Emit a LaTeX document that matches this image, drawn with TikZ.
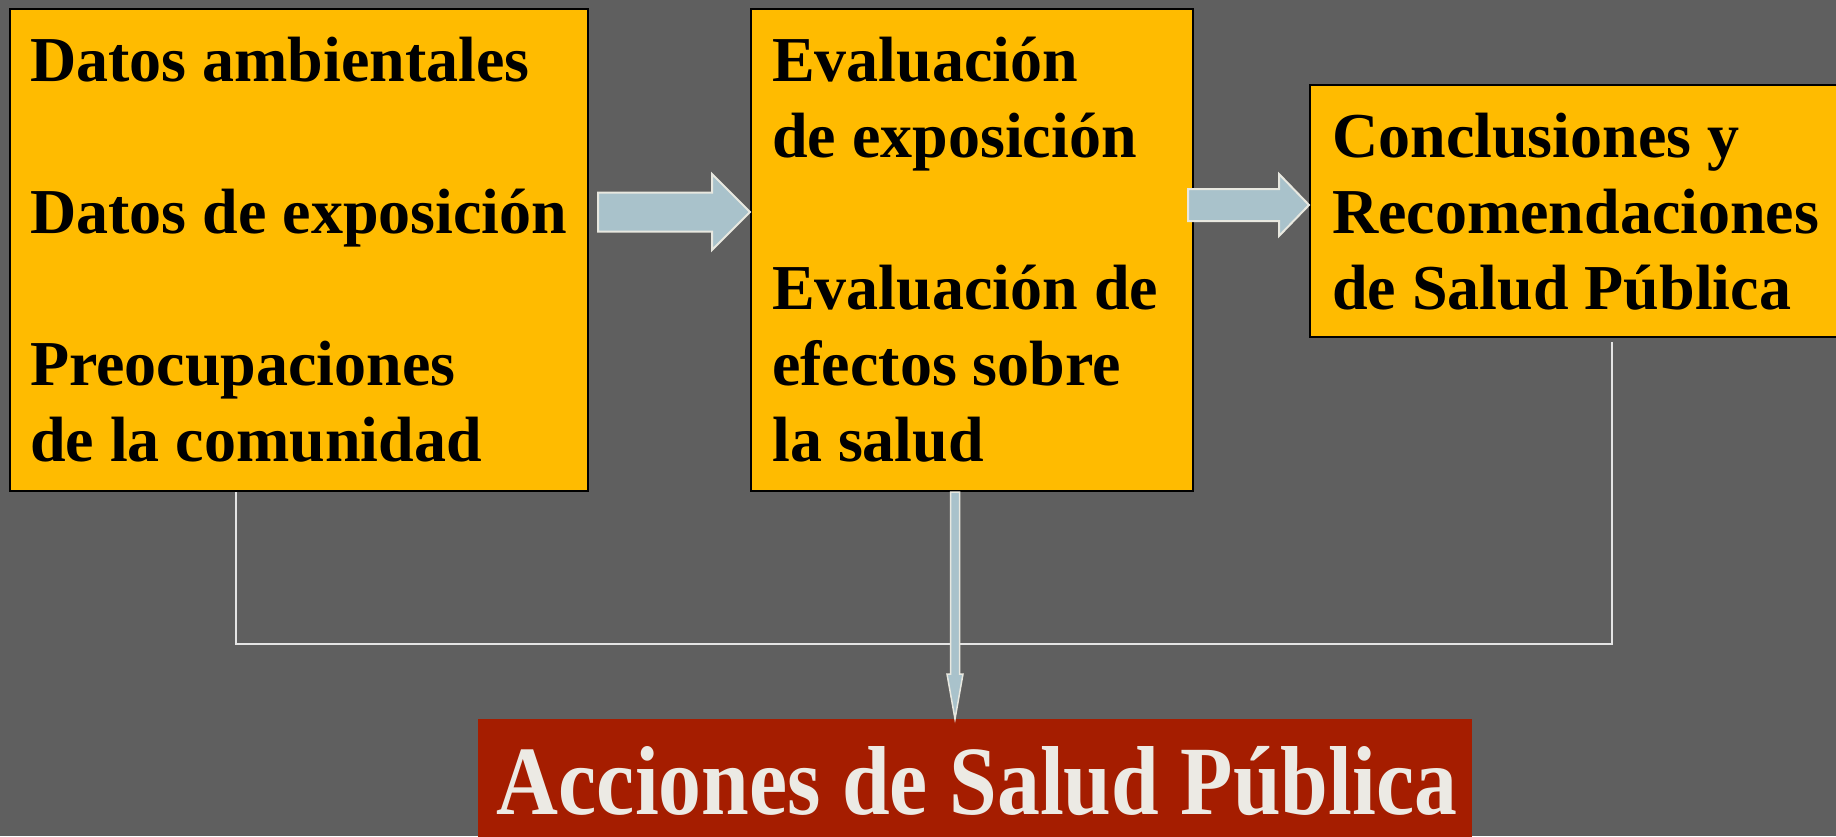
\documentclass[tikz,border=0pt]{standalone}
\usepackage{fontspec}
\setmainfont{Liberation Serif}
\newfontfamily\titlefont{Liberation Serif}[FakeStretch=0.875]
\usetikzlibrary{calc}
\definecolor{bgcol}{RGB}{95,95,95}
\definecolor{boxorange}{RGB}{255,187,0}
\definecolor{actred}{RGB}{165,29,0}
\definecolor{arrfill}{RGB}{169,194,203}
\definecolor{arredge}{RGB}{232,232,224}
\definecolor{linecol}{RGB}{228,228,228}
\definecolor{acttext}{RGB}{236,234,228}
\tikzset{
  stagebox/.style={draw=black, line width=1.5pt, fill=boxorange, rectangle, anchor=north west, inner sep=0pt},
  stagetext/.style={anchor=north west, inner sep=0pt, align=left, font=\bfseries\fontsize{64}{76}\selectfont, text=black},
  barrow/.style={fill=arrfill, draw=arredge, line width=2pt, line join=miter},
  link/.style={draw=linecol, line width=2pt},
}
\newcommand{\firstline}{\rule{0pt}{73pt}}
\begin{document}
\begin{tikzpicture}[x=1pt,y=-1pt]
\fill[bgcol] (0,0) rectangle (1836,836);
\useasboundingbox (0,0) rectangle (1836,836);

% boxes
\node[stagebox, minimum width=578pt, minimum height=482pt] (b1) at (9,8) {};
\node[stagebox, minimum width=442pt, minimum height=482pt] (b2) at (750,8) {};
\node[stagebox, minimum width=540pt, minimum height=252pt] (b3) at (1309,84) {};
\node[fill=actred, rectangle, anchor=north west, inner sep=0pt, minimum width=994pt, minimum height=130pt] (act) at (478,719) {};

% texts
\node[stagetext] (t1) at ($(b1.north west)+(21,0)$) {\firstline Datos ambientales\\[76pt]Datos de exposición\\[76pt]Preocupaciones\\de la comunidad};
\node[stagetext] (t2) at ($(b2.north west)+(22,0)$) {\firstline Evaluación\\de exposición\\[76pt]Evaluación de\\efectos sobre\\la salud};
\node[stagetext] (t3) at ($(b3.north west)+(23,0)$) {\firstline Conclusiones y\\Recomendaciones\\de Salud Pública};
\node[anchor=base, inner sep=0pt, font=\titlefont\bfseries\fontsize{98}{110}\selectfont, text=acttext] (tact) at (977,814) {Acciones de Salud Pública};

% connector line
\coordinate (l1) at (236,492);
\coordinate (l2) at (236,644);
\coordinate (l3) at (1612,644);
\coordinate (l4) at (1612,342);
\draw[link] (l1) -- (l2) -- (l3) -- (l4);

% block arrows
\coordinate (a1s) at (598,212);
\coordinate (a1e) at (b2.west |- a1s);
\draw[barrow] ($(a1s)+(0,-19.5)$) -- ($(a1e)+(-38,-19.5)$) -- ($(a1e)+(-38,-38)$) -- (a1e)
  -- ($(a1e)+(-38,38)$) -- ($(a1e)+(-38,19.5)$) -- ($(a1s)+(0,19.5)$) -- cycle;

\coordinate (a2s) at (1188,205);
\coordinate (a2e) at (b3.west |- a2s);
\draw[barrow] ($(a2s)+(0,-16)$) -- ($(a2e)+(-30,-16)$) -- ($(a2e)+(-30,-31)$) -- (a2e)
  -- ($(a2e)+(-30,31)$) -- ($(a2e)+(-30,16)$) -- ($(a2s)+(0,16)$) -- cycle;

\coordinate (a3s) at (955,492);
\coordinate (a3e) at (a3s |- act.north);
\draw[barrow, line width=1.5pt] ($(a3s)+(-4.5,0)$) -- ($(a3e)+(-4.5,-45)$) -- ($(a3e)+(-8,-45)$) -- (a3e)
  -- ($(a3e)+(8,-45)$) -- ($(a3e)+(4.5,-45)$) -- ($(a3s)+(4.5,0)$) -- cycle;
\end{tikzpicture}
\end{document}
